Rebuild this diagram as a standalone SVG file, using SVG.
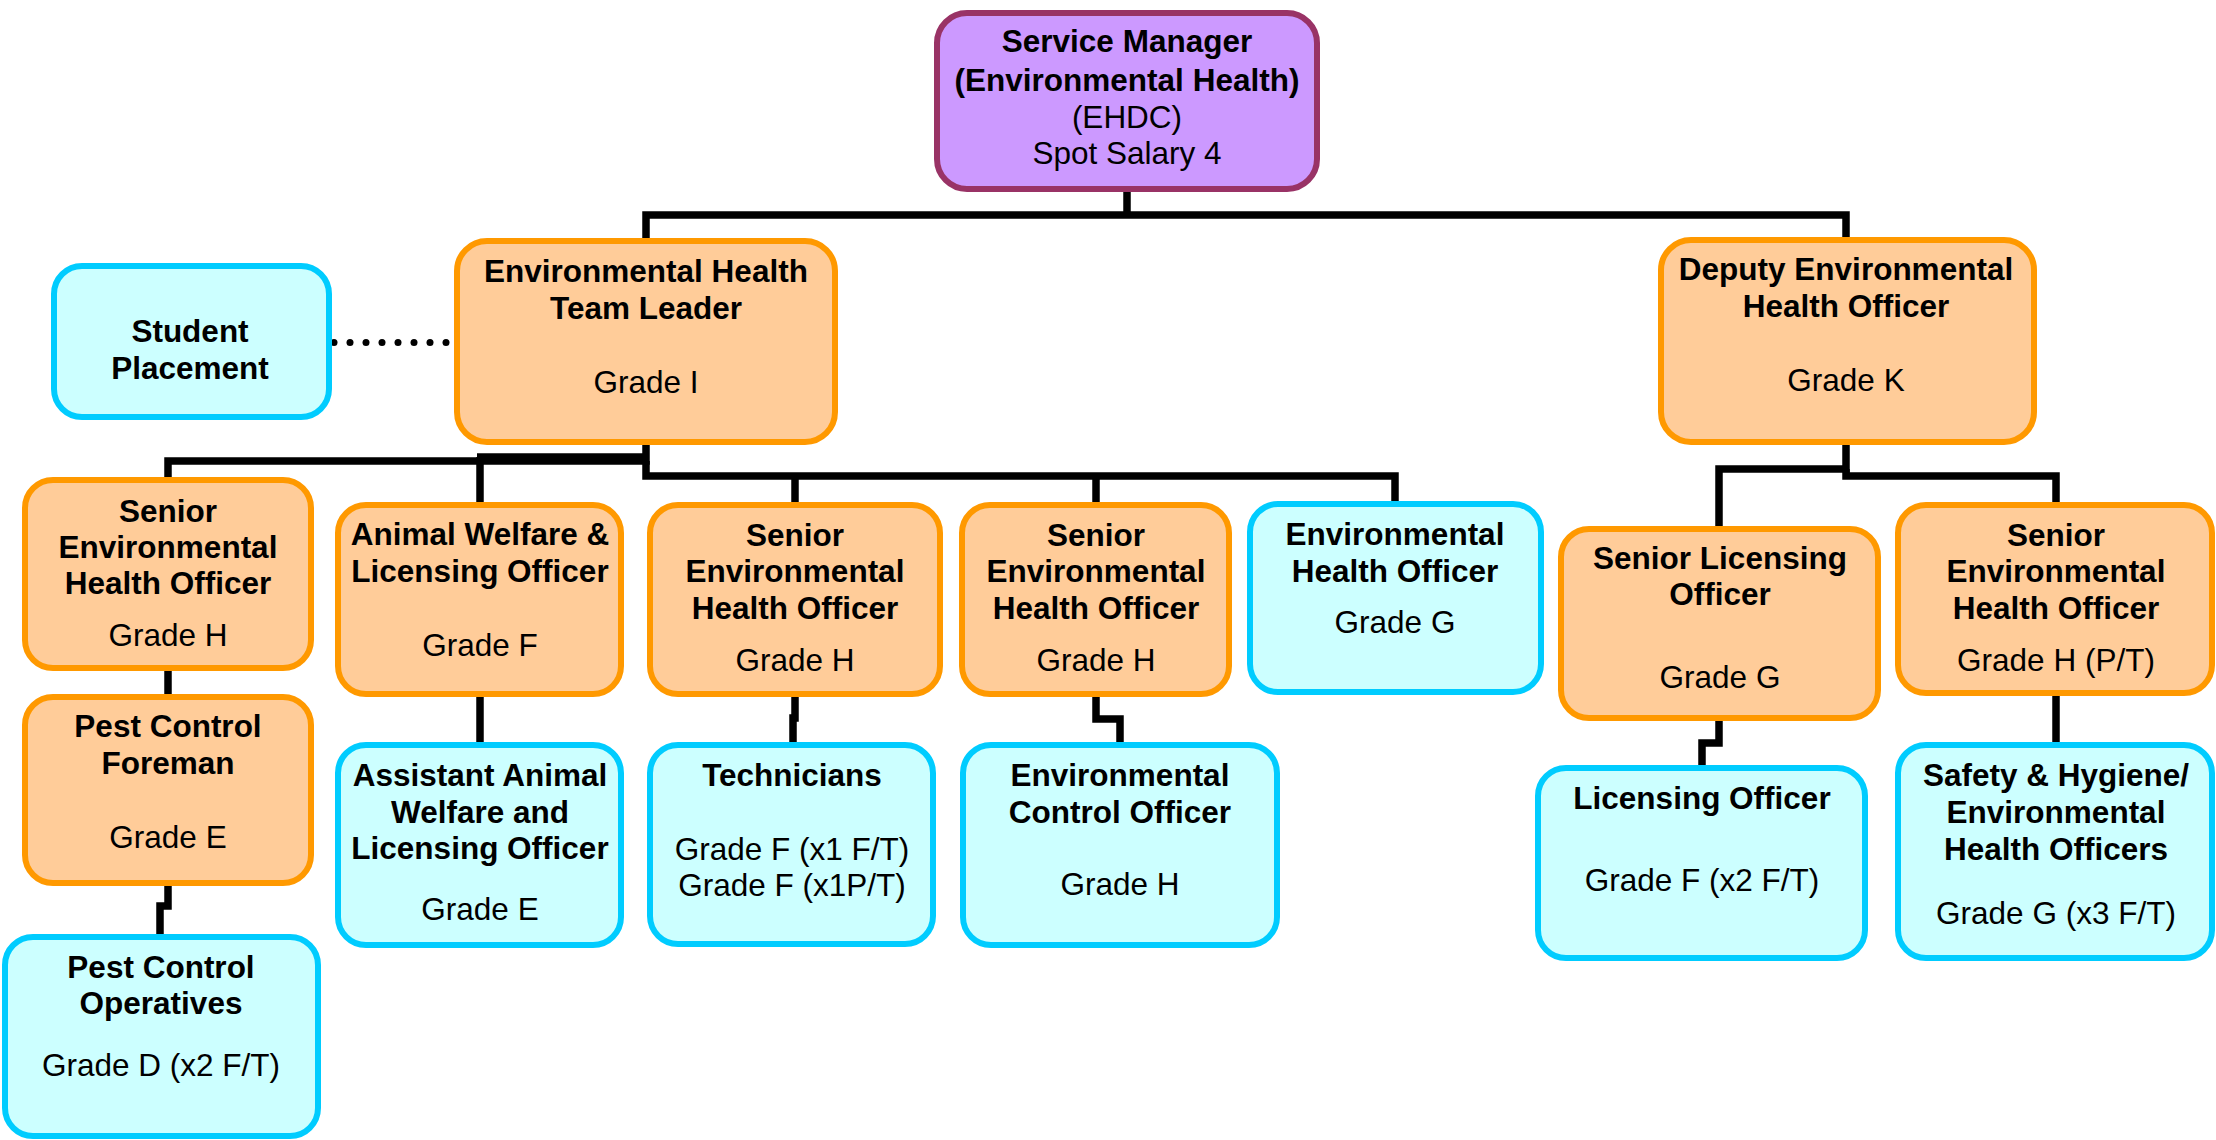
<svg xmlns="http://www.w3.org/2000/svg" width="2216" height="1140" viewBox="0 0 2216 1140">
<style>
  .or { fill: #FFCC99; stroke: #FF9900; stroke-width: 6; }
  .cy { fill: #CCFFFF; stroke: #00CCFF; stroke-width: 6; }
  .pu { fill: #CC99FF; stroke: #993366; stroke-width: 6; }
  text { font-family: "Liberation Sans", Arial, sans-serif; font-size: 31.5px; fill: #000; text-anchor: middle; }
  .b { font-weight: bold; }
  .ln { fill: none; stroke: #000; stroke-width: 7.5; stroke-linecap: butt; stroke-linejoin: miter; }
  .dot { fill: #000; }
</style>
<rect width="2216" height="1140" fill="#FFFFFF"/>
<g id="connectors">
  <path class="ln" d="M1127 192 V215"/>
  <path class="ln" d="M646 238 V215 H1846 V237"/>
  <g id="dotted-link">
    <circle class="dot" cx="334" cy="342.5" r="3.5"/>
    <circle class="dot" cx="350" cy="342.5" r="3.5"/>
    <circle class="dot" cx="366" cy="342.5" r="3.5"/>
    <circle class="dot" cx="382" cy="342.5" r="3.5"/>
    <circle class="dot" cx="398" cy="342.5" r="3.5"/>
    <circle class="dot" cx="414" cy="342.5" r="3.5"/>
    <circle class="dot" cx="430" cy="342.5" r="3.5"/>
    <circle class="dot" cx="446" cy="342.5" r="3.5"/>
  </g>
  <path class="ln" d="M646 445 V461 H168 V478"/>
  <path class="ln" d="M477 457 H646"/>
  <path class="ln" d="M480 457 V502"/>
  <path class="ln" d="M646 461 V476 H1395 V501"/>
  <path class="ln" d="M795 476 V502"/>
  <path class="ln" d="M1096 476 V502"/>
  <path class="ln" d="M168 671 V694"/>
  <path class="ln" d="M168 886 V906 H160 V934"/>
  <path class="ln" d="M480 697 V742"/>
  <path class="ln" d="M795 697 V718 H793 V742"/>
  <path class="ln" d="M1096 696 V719 H1120 V742"/>
  <path class="ln" d="M1846 445 V469 H1719 V526"/>
  <path class="ln" d="M1846 469 V476 H2056 V502"/>
  <path class="ln" d="M1719 721 V743 H1702 V765"/>
  <path class="ln" d="M2056 696 V742"/>
</g>
<g id="service-manager">
  <rect class="pu" x="937" y="13" width="380" height="176" rx="30"/>
  <text class="b" x="1127" y="52">Service Manager</text>
  <text class="b" x="1127" y="91">(Environmental Health)</text>
  <text x="1127" y="128">(EHDC)</text>
  <text x="1127" y="164">Spot Salary 4</text>
</g>
<g id="student-placement">
  <rect class="cy" x="54" y="266" width="275" height="151" rx="28"/>
  <text class="b" x="190" y="342">Student</text>
  <text class="b" x="190" y="379">Placement</text>
</g>
<g id="eh-team-leader">
  <rect class="or" x="457" y="241" width="378" height="201" rx="30"/>
  <text class="b" x="646" y="282">Environmental Health</text>
  <text class="b" x="646" y="319">Team Leader</text>
  <text x="646" y="393">Grade I</text>
</g>
<g id="deputy-eho">
  <rect class="or" x="1661" y="240" width="373" height="202" rx="30"/>
  <text class="b" x="1846" y="280">Deputy Environmental</text>
  <text class="b" x="1846" y="317">Health Officer</text>
  <text x="1846" y="391">Grade K</text>
</g>
<g id="senior-eho-1">
  <rect class="or" x="25" y="480" width="286" height="188" rx="28"/>
  <text class="b" x="168" y="522">Senior</text>
  <text class="b" x="168" y="558">Environmental</text>
  <text class="b" x="168" y="594">Health Officer</text>
  <text x="168" y="646">Grade H</text>
</g>
<g id="pest-control-foreman">
  <rect class="or" x="25" y="697" width="286" height="186" rx="28"/>
  <text class="b" x="168" y="737">Pest Control</text>
  <text class="b" x="168" y="774">Foreman</text>
  <text x="168" y="848">Grade E</text>
</g>
<g id="pest-control-operatives">
  <rect class="cy" x="5" y="937" width="313" height="199" rx="28"/>
  <text class="b" x="161" y="978">Pest Control</text>
  <text class="b" x="161" y="1014">Operatives</text>
  <text x="161" y="1076">Grade D (x2 F/T)</text>
</g>
<g id="animal-welfare">
  <rect class="or" x="338" y="505" width="283" height="189" rx="28"/>
  <text class="b" x="480" y="545">Animal Welfare &amp;</text>
  <text class="b" x="480" y="582">Licensing Officer</text>
  <text x="480" y="656">Grade F</text>
</g>
<g id="assistant-animal-welfare">
  <rect class="cy" x="338" y="745" width="283" height="200" rx="28"/>
  <text class="b" x="480" y="786">Assistant Animal</text>
  <text class="b" x="480" y="823">Welfare and</text>
  <text class="b" x="480" y="859">Licensing Officer</text>
  <text x="480" y="920">Grade E</text>
</g>
<g id="senior-eho-2">
  <rect class="or" x="650" y="505" width="290" height="189" rx="28"/>
  <text class="b" x="795" y="546">Senior</text>
  <text class="b" x="795" y="582">Environmental</text>
  <text class="b" x="795" y="619">Health Officer</text>
  <text x="795" y="671">Grade H</text>
</g>
<g id="technicians">
  <rect class="cy" x="650" y="745" width="283" height="199" rx="28"/>
  <text class="b" x="792" y="786">Technicians</text>
  <text x="792" y="860">Grade F (x1 F/T)</text>
  <text x="792" y="896">Grade F (x1P/T)</text>
</g>
<g id="senior-eho-3">
  <rect class="or" x="962" y="505" width="267" height="189" rx="28"/>
  <text class="b" x="1096" y="546">Senior</text>
  <text class="b" x="1096" y="582">Environmental</text>
  <text class="b" x="1096" y="619">Health Officer</text>
  <text x="1096" y="671">Grade H</text>
</g>
<g id="environmental-control-officer">
  <rect class="cy" x="963" y="745" width="314" height="200" rx="28"/>
  <text class="b" x="1120" y="786">Environmental</text>
  <text class="b" x="1120" y="823">Control Officer</text>
  <text x="1120" y="895">Grade H</text>
</g>
<g id="eho-grade-g">
  <rect class="cy" x="1250" y="504" width="291" height="188" rx="28"/>
  <text class="b" x="1395" y="545">Environmental</text>
  <text class="b" x="1395" y="582">Health Officer</text>
  <text x="1395" y="633">Grade G</text>
</g>
<g id="senior-licensing-officer">
  <rect class="or" x="1561" y="529" width="317" height="189" rx="28"/>
  <text class="b" x="1720" y="569">Senior Licensing</text>
  <text class="b" x="1720" y="605">Officer</text>
  <text x="1720" y="688">Grade G</text>
</g>
<g id="licensing-officer">
  <rect class="cy" x="1538" y="768" width="327" height="190" rx="28"/>
  <text class="b" x="1702" y="809">Licensing Officer</text>
  <text x="1702" y="891">Grade F (x2 F/T)</text>
</g>
<g id="senior-eho-pt">
  <rect class="or" x="1898" y="505" width="314" height="188" rx="28"/>
  <text class="b" x="2056" y="546">Senior</text>
  <text class="b" x="2056" y="582">Environmental</text>
  <text class="b" x="2056" y="619">Health Officer</text>
  <text x="2056" y="671">Grade H (P/T)</text>
</g>
<g id="safety-hygiene">
  <rect class="cy" x="1898" y="745" width="314" height="213" rx="28"/>
  <text class="b" x="2056" y="786">Safety &amp; Hygiene/</text>
  <text class="b" x="2056" y="823">Environmental</text>
  <text class="b" x="2056" y="860">Health Officers</text>
  <text x="2056" y="924">Grade G (x3 F/T)</text>
</g>
</svg>
